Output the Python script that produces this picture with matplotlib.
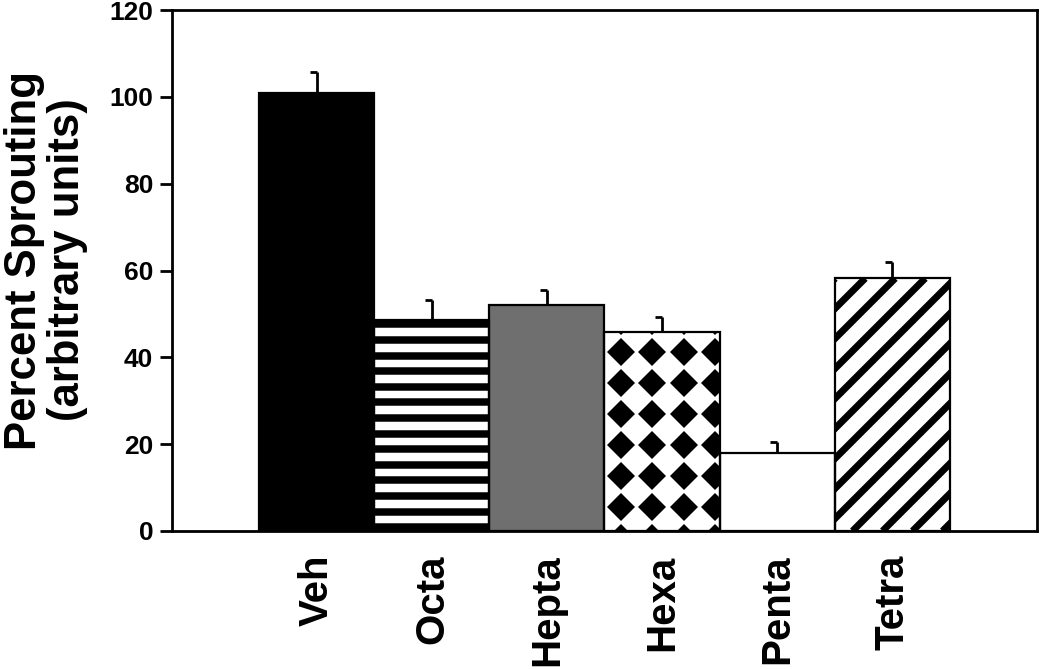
"""Percent sprouting by treatment group, bar chart with fill patterns."""
import matplotlib as mpl
import matplotlib.pyplot as plt
import numpy as np
from matplotlib.collections import LineCollection

mpl.rcParams.update(
    {
        "font.family": "sans-serif",
        "font.sans-serif": ["Liberation Sans", "Arial", "DejaVu Sans"],
        "font.weight": "bold",
        "axes.linewidth": 2.0,
    }
)

GROUPS = ["Veh", "Octa", "Hepta", "Hexa", "Penta", "Tetra"]
MEANS = [100.8, 48.5, 52.0, 45.8, 17.9, 58.2]
SEMS = [5.0, 4.6, 3.6, 3.5, 2.6, 3.7]
Y_TICKS = [0, 20, 40, 60, 80, 100, 120]

FILLS = ["black", "white", "#6f6f6f", "white", "white", "white"]
PATTERNS = [None, "hlines", None, "diamonds", None, "diagonal"]


def add_hlines(ax, rect, px_x, px_y):
    x0, w, h = rect.get_x(), rect.get_width(), rect.get_height()
    step = 15.6 / px_y
    ys = np.arange(h - 4 / px_y, -step, -step)
    lc = ax.hlines(ys, x0, x0 + w, colors="black", linewidth=5.4, zorder=2)
    lc.set_clip_path(rect)


def add_diagonal(ax, rect, px_x, px_y):
    x0, w, h = rect.get_x(), rect.get_width(), rect.get_height()
    run = h * px_y / px_x  # 45 degrees on screen
    step = 30 / px_x
    first = x0 + 18 / px_x
    n_back = int(np.ceil(run / step)) + 1
    starts = first + step * np.arange(-n_back, int(w / step) + 2)
    segs = [[(s, 0), (s + run, h)] for s in starts]
    lc = LineCollection(segs, colors="black", linewidths=5.0, zorder=2)
    ax.add_collection(lc)
    lc.set_clip_path(rect)


def add_diamonds(ax, rect, px_x, px_y):
    x0, w, h = rect.get_x(), rect.get_width(), rect.get_height()
    xs = x0 + (16.5 + 31.5 * np.arange(5)) / px_x
    ys = (-7 + 31 * np.arange(int(h * px_y / 31) + 3)) / px_y
    gx, gy = np.meshgrid(xs, ys)
    (pts,) = ax.plot(gx.ravel(), gy.ravel(), "D", ms=14.6, color="black",
                     markeredgewidth=0, zorder=2)
    pts.set_clip_path(rect)


def main():
    fig = plt.figure(figsize=(10.5, 6.69), dpi=100)
    ax = fig.add_axes([0.1638, 0.2063, 0.8238, 0.7787])
    x = np.arange(len(GROUPS))
    ax.set_xlim(-1.26, 6.26)
    ax.set_ylim(0, 120)

    bb = ax.get_window_extent()
    px_x = bb.width / 7.52
    px_y = bb.height / 120

    bars = ax.bar(x, MEANS, width=1.0, color=FILLS, edgecolor="none", zorder=1)
    for rect, pat in zip(bars, PATTERNS):
        if pat == "hlines":
            add_hlines(ax, rect, px_x, px_y)
        elif pat == "diagonal":
            add_diagonal(ax, rect, px_x, px_y)
        elif pat == "diamonds":
            add_diamonds(ax, rect, px_x, px_y)
    ax.bar(x, MEANS, width=1.0, fill=False, edgecolor="black", linewidth=1.6, zorder=3)

    # upward error bars with a short cap on the left
    tops = np.array(MEANS) + np.array(SEMS)
    ax.vlines(x, MEANS, tops, colors="black", linewidth=2.0, zorder=3)
    ax.hlines(tops, x - 0.06, x, colors="black", linewidth=2.0, zorder=3)

    ax.set_yticks(Y_TICKS)
    ax.set_yticklabels([str(t) for t in Y_TICKS], fontsize=19, fontweight="bold")
    ax.tick_params(axis="y", direction="out", length=8.5, width=2.0, pad=5)
    ax.set_xticks(x)
    ax.set_xticklabels(GROUPS, rotation=90, fontsize=29, fontweight="bold")
    ax.tick_params(axis="x", length=0, pad=17)
    ax.set_ylabel("Percent Sprouting\n(arbitrary units)", fontsize=31.5,
                  fontweight="bold", linespacing=1.08)
    ax.yaxis.set_label_coords(-0.097, 0.52)

    fig.savefig("out.png", dpi=100)
    plt.close(fig)


if __name__ == "__main__":
    main()
